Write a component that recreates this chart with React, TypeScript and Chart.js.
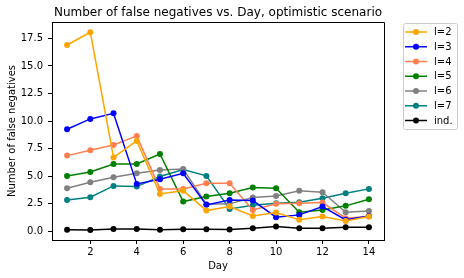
import React, { useEffect, useRef } from "react";
import { Chart, registerables } from "chart.js";

Chart.register(...registerables);

const days = [1, 2, 3, 4, 5, 6, 7, 8, 9, 10, 11, 12, 13, 14];
const l2 = [16.9, 18.06, 6.7, 8.19, 3.38, 3.68, 1.87, 2.23, 1.39, 1.69, 1.03, 1.33, 0.93, 1.33];
const l3 = [9.25, 10.19, 10.7, 4.29, 4.72, 5.26, 2.39, 2.84, 2.78, 1.27, 1.48, 2.23, 1.03, 1.39];
const l4 = [6.86, 7.35, 7.83, 8.65, 3.84, 3.84, 4.36, 4.36, 1.93, 2.48, 2.54, 2.6, 1.18, 1.33];
const l5 = [5.02, 5.38, 6.1, 6.1, 7.01, 2.69, 3.14, 3.45, 3.96, 3.9, 1.72, 1.93, 2.3, 2.9];
const l6 = [3.9, 4.45, 4.9, 5.26, 5.56, 5.65, 2.45, 2.48, 3.05, 3.2, 3.66, 3.54, 1.72, 1.84];
const l7 = [2.84, 3.09, 4.11, 4.05, 4.96, 5.6, 5.02, 2.02, 2.36, 2.54, 2.63, 2.99, 3.45, 3.84];
const ind = [0.12, 0.1, 0.2, 0.2, 0.12, 0.18, 0.18, 0.15, 0.27, 0.42, 0.27, 0.27, 0.36, 0.36];

const seriesNames = ["l=2", "l=3", "l=4", "l=5", "l=6", "l=7", "ind."];
const seriesColors = ["#FFA500", "#0000FF", "#FF7F50", "#008000", "#808080", "#008080", "#000000"];
const seriesValues = [l2, l3, l4, l5, l6, l7, ind];

const xTicks = [2, 4, 6, 8, 10, 12, 14];
const yTicks = [0, 2.5, 5, 7.5, 10, 12.5, 15, 17.5];

const titleText = "Number of false negatives vs. Day, optimistic scenario";
const xTitle = "Day";
const yTitle = "Number of false negatives";

const FONT = "'DejaVu Sans', sans-serif";

const decorPlugin = {
  id: "decor",
  afterDraw(chart: any) {
    const ctx = chart.ctx;
    const a = chart.chartArea;
    ctx.save();
    // top & right spines
    ctx.strokeStyle = "#000";
    ctx.lineWidth = 1;
    ctx.beginPath();
    ctx.moveTo(a.left, a.top + 0.5);
    ctx.lineTo(a.right + 0.5, a.top + 0.5);
    ctx.lineTo(a.right + 0.5, a.bottom);
    ctx.stroke();

    // title
    ctx.fillStyle = "#000";
    ctx.font = `12px ${FONT}`;
    ctx.textAlign = "center";
    ctx.textBaseline = "middle";
    ctx.fillText(titleText, (a.left + a.right) / 2, 13);

    // axis titles
    ctx.font = `10px ${FONT}`;
    ctx.fillText(xTitle, (a.left + a.right) / 2, 266);
    ctx.save();
    ctx.translate(12, (a.top + a.bottom) / 2);
    ctx.rotate(-Math.PI / 2);
    ctx.fillText(yTitle, 0, 0);
    ctx.restore();

    // legend
    const bx = 403, by = 23, bw = 54, bh = 106;
    ctx.fillStyle = "rgba(255,255,255,0.8)";
    ctx.strokeStyle = "#cccccc";
    ctx.lineWidth = 1;
    ctx.beginPath();
    const r = 2;
    ctx.moveTo(bx + r + 0.5, by + 0.5);
    ctx.lineTo(bx + bw - r + 0.5, by + 0.5);
    ctx.arcTo(bx + bw + 0.5, by + 0.5, bx + bw + 0.5, by + r + 0.5, r);
    ctx.lineTo(bx + bw + 0.5, by + bh - r + 0.5);
    ctx.arcTo(bx + bw + 0.5, by + bh + 0.5, bx + bw - r + 0.5, by + bh + 0.5, r);
    ctx.lineTo(bx + r + 0.5, by + bh + 0.5);
    ctx.arcTo(bx + 0.5, by + bh + 0.5, bx + 0.5, by + bh - r + 0.5, r);
    ctx.lineTo(bx + 0.5, by + r + 0.5);
    ctx.arcTo(bx + 0.5, by + 0.5, bx + r + 0.5, by + 0.5, r);
    ctx.closePath();
    ctx.fill();
    ctx.stroke();

    ctx.font = `10px ${FONT}`;
    ctx.textAlign = "left";
    ctx.textBaseline = "middle";
    chart.data.datasets.forEach((ds: any, i: number) => {
      const y = 32 + i * 14.75;
      ctx.strokeStyle = ds.borderColor;
      ctx.lineWidth = 1.5;
      ctx.beginPath();
      ctx.moveTo(405, y);
      ctx.lineTo(427, y);
      ctx.stroke();
      ctx.fillStyle = ds.borderColor;
      ctx.beginPath();
      ctx.arc(416, y, 3, 0, Math.PI * 2);
      ctx.fill();
      ctx.fillStyle = "#000";
      ctx.fillText(ds.label, 434, y + 0.5);
    });
    ctx.restore();
  },
};

export default function App() {
  const ref = useRef<HTMLCanvasElement>(null);
  useEffect(() => {
    if (!ref.current) return;
    const chart = new Chart(ref.current, {
      type: "line",
      data: {
        datasets: seriesValues.map((vals, i) => ({
          label: seriesNames[i],
          data: days.map((d, j) => ({ x: d, y: vals[j] })),
          borderColor: seriesColors[i],
          backgroundColor: seriesColors[i],
          borderWidth: 1.5,
          pointRadius: 3,
          pointBorderWidth: 0,
          pointBackgroundColor: seriesColors[i],
          fill: false,
          tension: 0,
        })),
      },
      options: {
        animation: false,
        responsive: false,
        devicePixelRatio: 1,
        layout: { padding: { top: 22, right: 80, left: 0, bottom: 0 } },
        plugins: { legend: { display: false }, title: { display: false }, tooltip: { enabled: false } },
        scales: {
          x: {
            type: "linear",
            min: 0.35,
            max: 14.65,
            afterBuildTicks: (s: any) => {
              s.ticks = xTicks.map((v) => ({ value: v }));
            },
            afterFit: (s: any) => {
              s.height = 38;
            },
            ticks: {
              color: "#000",
              font: { family: FONT, size: 10 },
              padding: 2,
              maxRotation: 0,
              autoSkip: false,
              callback: (v: any) => String(v),
            },
            grid: { display: true, drawOnChartArea: false, drawTicks: true, tickLength: 4, color: "#000" },
            border: { display: true, color: "#000", width: 1 },
          },
          y: {
            type: "linear",
            min: -0.8,
            max: 18.99,
            afterBuildTicks: (s: any) => {
              s.ticks = yTicks.map((v) => ({ value: v }));
            },
            afterFit: (s: any) => {
              s.width = 52;
            },
            ticks: {
              color: "#000",
              font: { family: FONT, size: 10 },
              padding: 5,
              autoSkip: false,
              callback: (v: any) => Number(v).toFixed(1),
            },
            grid: { display: true, drawOnChartArea: false, drawTicks: true, tickLength: 4, color: "#000" },
            border: { display: true, color: "#000", width: 1 },
          },
        },
      },
      plugins: [decorPlugin],
    });
    return () => chart.destroy();
  }, []);
  return (
    <div style={{ position: "absolute", left: 0, top: 0, width: 464, height: 278, background: "#fff" }}>
      <canvas ref={ref} width={464} height={278} style={{ width: 464, height: 278 }} />
    </div>
  );
}
